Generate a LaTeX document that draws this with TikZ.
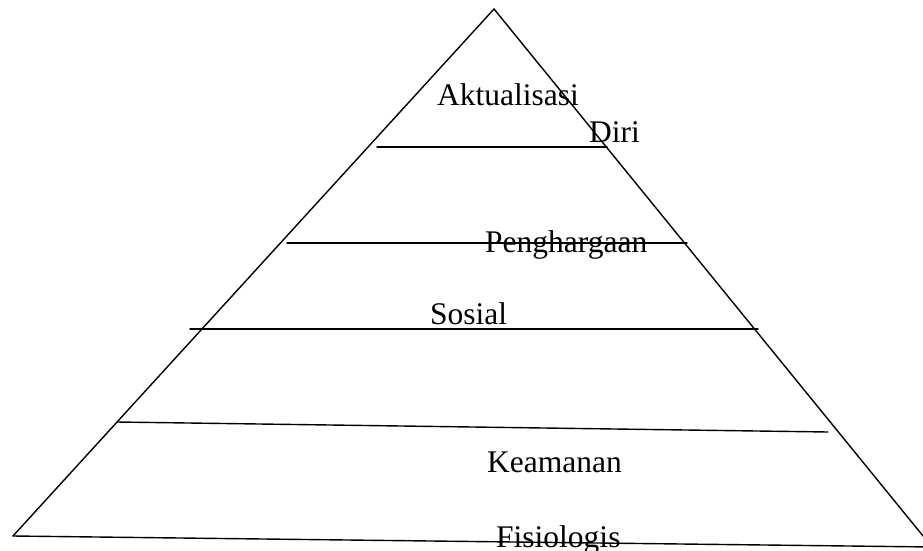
\documentclass[tikz,border=0pt]{standalone}
\usepackage{fontspec}
\setmainfont{Liberation Serif}
\begin{document}
\begin{tikzpicture}[x=1pt,y=-1pt,
  edge/.style={draw=black,line width=1.4pt,line cap=round},
  lvl/.style={anchor=base west,inner sep=0pt,font=\fontsize{31.5}{36}\selectfont}]
\useasboundingbox (0,0) rectangle (923,551);
\clip (0,0) rectangle (923,551);
\fill[white] (0,0) rectangle (923,551);
% triangle corners
\coordinate (apex) at (494,9);
\coordinate (bl) at (13,536);
\coordinate (br) at (932,547);
\draw[edge] (bl) -- (apex) -- (br);
\draw[edge] (bl) -- (br);
% level lines
\draw[edge] (377,147) -- (607,147);
\draw[edge] (287,243) -- (687,243);
\draw[edge] (190,329) -- (758,329);
\draw[edge] (117,422) -- (828,432);
% labels
\node[lvl] (akt) at (437,105) {Aktualisasi};
\node[lvl] (diri) at (589,142) {Diri};
\node[lvl] (peng) at (485,252) {Penghargaan};
\node[lvl] (sos) at (430,324) {Sosial};
\node[lvl] (kea) at (487,472) {Keamanan};
\node[lvl] (fis) at (496,547) {Fisiologis};
\end{tikzpicture}
\end{document}
